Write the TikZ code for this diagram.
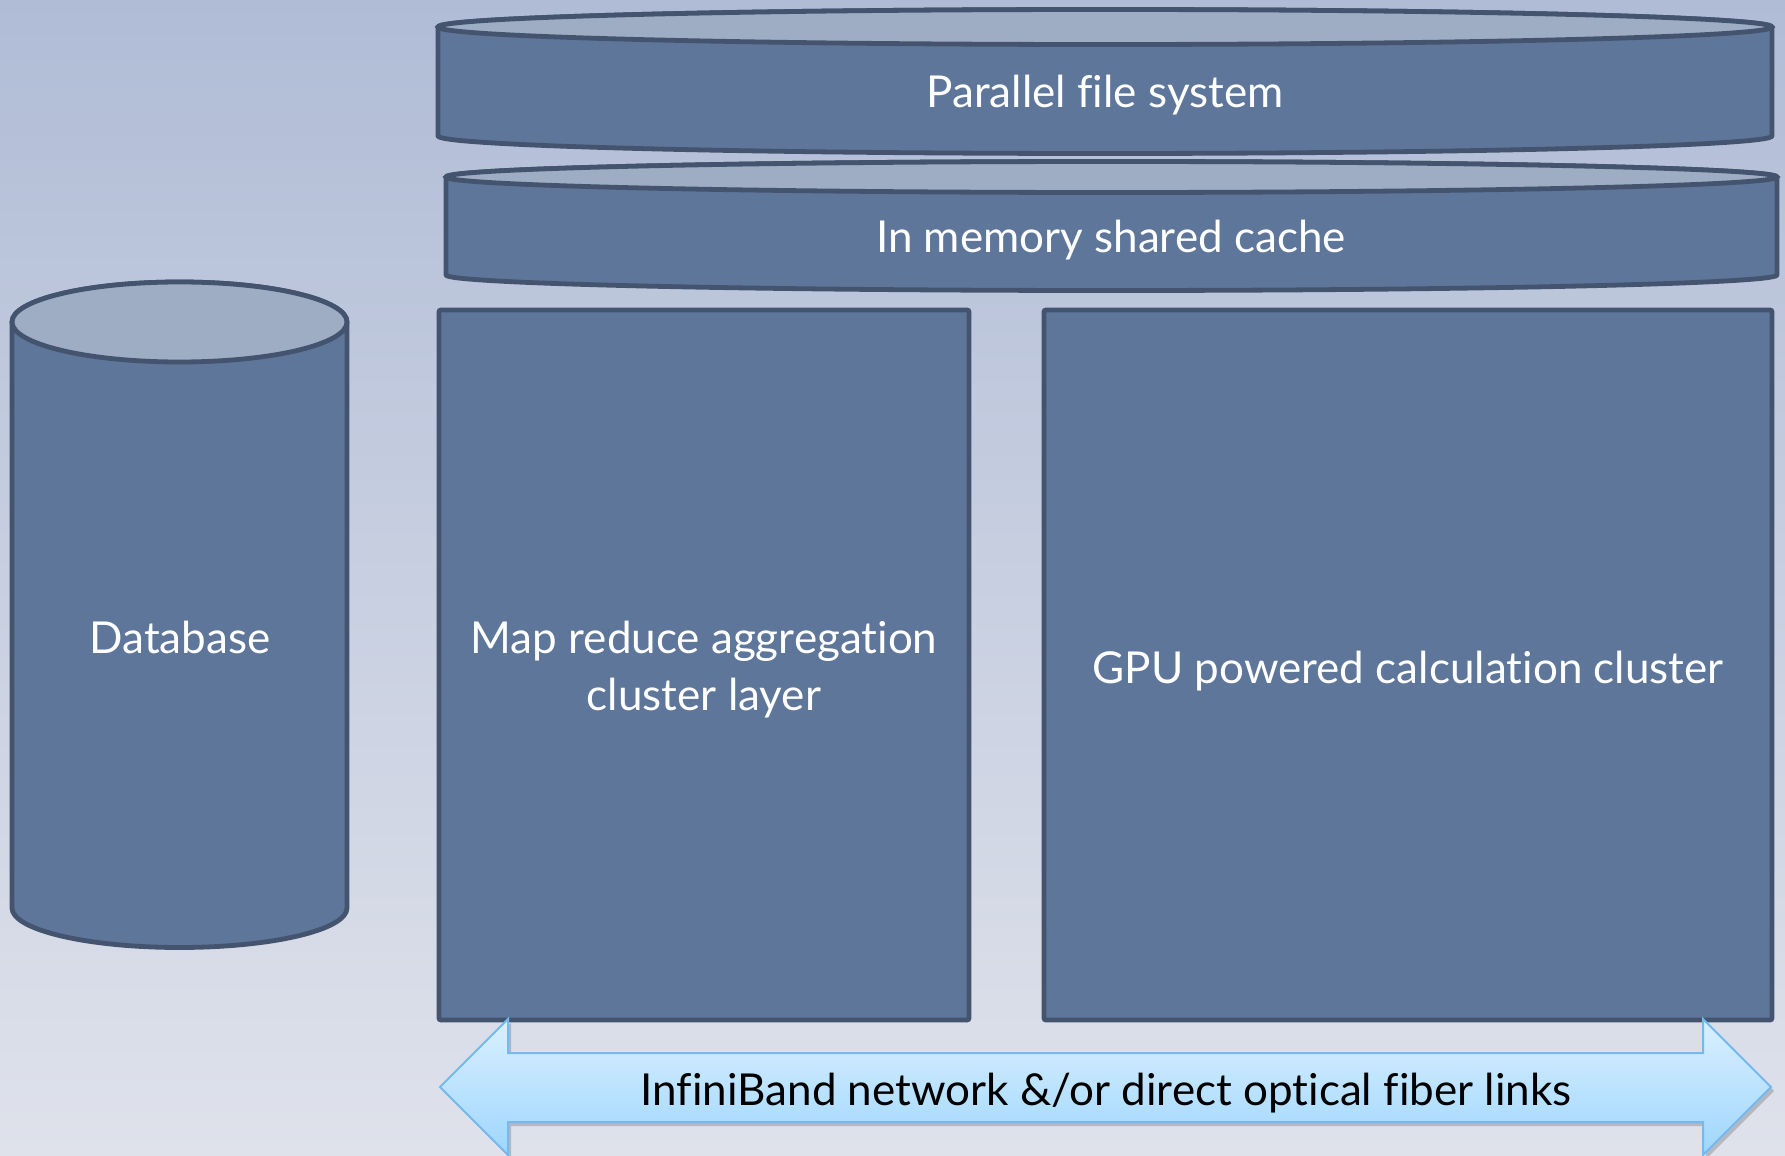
\documentclass[tikz,border=0pt]{standalone}
\usepackage{fontspec}
\setmainfont[Ligatures=NoCommon]{Lato}
\usetikzlibrary{calc}
\definecolor{bgtop}{HTML}{B0BCD6}
\definecolor{bgbot}{HTML}{DFE2EB}
\definecolor{bodyfill}{HTML}{5E7699}
\definecolor{lidfill}{HTML}{9EADC3}
\definecolor{edge}{HTML}{44546F}
\definecolor{arrtop}{HTML}{DAF0FF}
\definecolor{arrbot}{HTML}{9ED6FD}
\definecolor{arredge}{HTML}{74B9F0}
\tikzset{
  shell/.style={fill=bodyfill, draw=edge, line width=2.4pt, line join=round},
  lid/.style={fill=lidfill, draw=edge, line width=2.4pt},
  block/.style={fill=bodyfill, draw=edge, line width=2.4pt, rounded corners=1pt},
  label/.style={text=white, font=\fontsize{22}{28.5}\selectfont, anchor=base, align=center, inner sep=0pt},
  linklabel/.style={text=black, font=\fontsize{22}{28.5}\selectfont, anchor=base, inner sep=0pt}
}
\begin{document}
\begin{tikzpicture}[x=0.5pt, y=-0.5pt]
  % backdrop
  \shade[top color=bgtop, bottom color=bgbot] (0,0) rectangle (1785,1156);
  \useasboundingbox (0,0) rectangle (1785,1156);

  % parallel file system disk
  \path[shell] (438,27) -- (438,136) arc[start angle=180, end angle=0, x radius=667, y radius=17.5]
    -- (1772,27) arc[start angle=0, end angle=-180, x radius=667, y radius=17.5] -- cycle;
  \path[lid] (1105,27) ellipse[x radius=667, y radius=17.5];
  \node[label] (pfs) at (1105,108) {Parallel file system};

  % shared cache disk
  \path[shell] (446,177) -- (446,275) arc[start angle=180, end angle=0, x radius=665.5, y radius=15.5]
    -- (1777,177) arc[start angle=0, end angle=-180, x radius=665.5, y radius=15.5] -- cycle;
  \path[lid] (1111.5,177) ellipse[x radius=665.5, y radius=15.5];
  \node[label] (cache) at (1111,252) {In memory shared cache};

  % database cylinder
  \path[shell] (12,322) -- (12,908) arc[start angle=180, end angle=0, x radius=167.5, y radius=39.5]
    -- (347,322) arc[start angle=0, end angle=-180, x radius=167.5, y radius=40] -- cycle;
  \path[lid] (179.5,322) ellipse[x radius=167.5, y radius=40];
  \node[label] (db) at (180,653) {Database};

  % cluster blocks
  \path[block] (439,310) rectangle (969,1020);
  \node[label] (mapred) at (704,710) {Map reduce aggregation\\cluster layer};
  \path[block] (1044,310) rectangle (1772,1020);
  \node[label] (gpu) at (1408,683) {GPU powered calculation cluster};

  % network double arrow
  \fill[black, opacity=0.18] ($(440,1087)+(3,4)$) -- ($(508,1019)+(3,4)$) -- ($(508,1053)+(3,4)$)
    -- ($(1703,1053)+(3,4)$) -- ($(1703,1019)+(3,4)$) -- ($(1771,1087)+(3,4)$)
    -- ($(1703,1155)+(3,4)$) -- ($(1703,1122)+(3,4)$) -- ($(508,1122)+(3,4)$)
    -- ($(508,1155)+(3,4)$) -- cycle;
  \shade[top color=arrtop, bottom color=arrbot, draw=arredge, line width=1pt, line join=miter]
    (440,1087) -- (508,1019) -- (508,1053) -- (1703,1053) -- (1703,1019) -- (1771,1087)
    -- (1703,1155) -- (1703,1122) -- (508,1122) -- (508,1155) -- cycle;
  \node[linklabel] (net) at (1106,1105) {InfiniBand network \&/or direct optical fiber links};
\end{tikzpicture}
\end{document}
